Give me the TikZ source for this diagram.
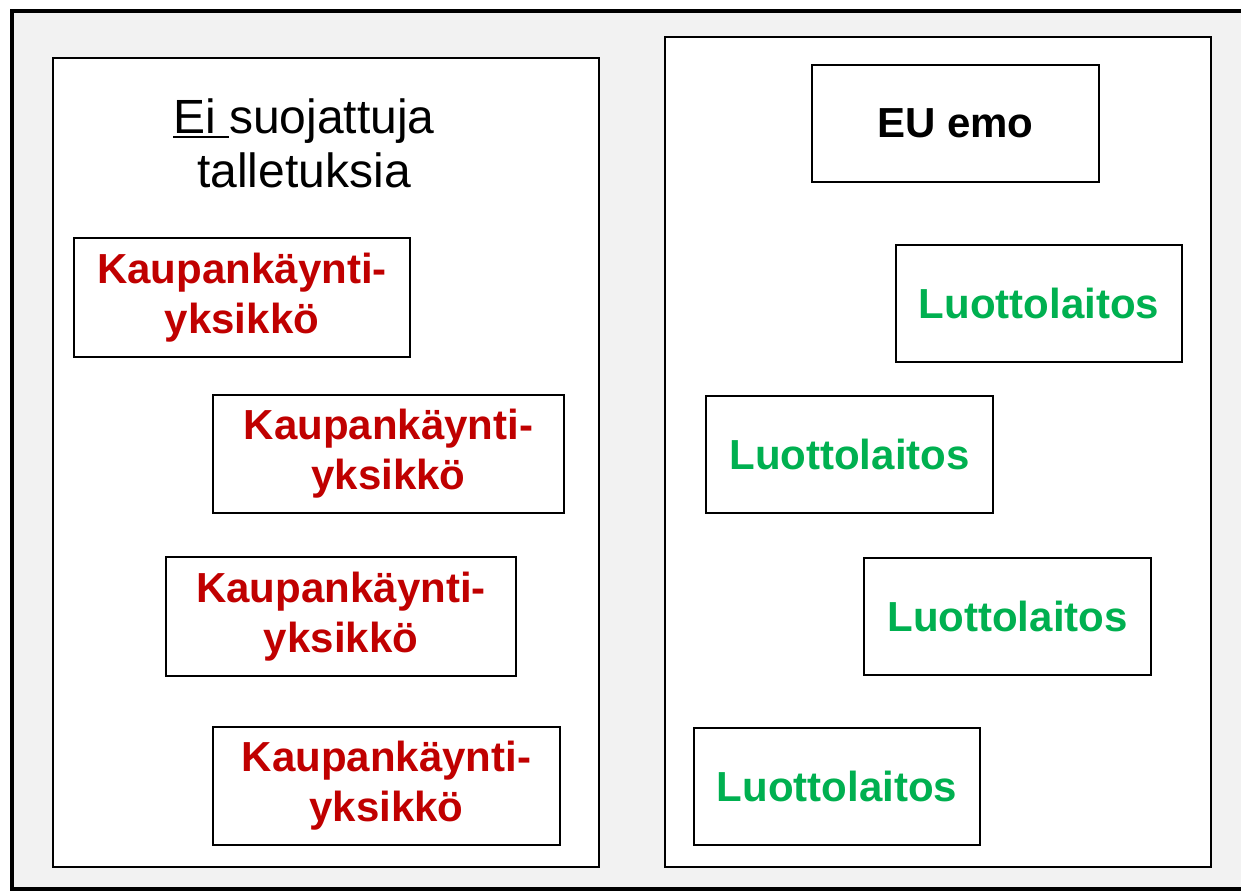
\documentclass[tikz,border=0pt]{standalone}
\usepackage{fontspec}
\setmainfont{Liberation Sans}
\definecolor{kred}{HTML}{C00000}
\definecolor{lgreen}{HTML}{00B050}
\definecolor{framebg}{HTML}{F2F2F2}
\newcommand\myul[1]{\setbox0\hbox{#1}\rlap{\rule[-5pt]{\wd0}{2.6pt}}\box0}
\begin{document}
\begin{tikzpicture}[x=1pt,y=-1pt,
  panel/.style={draw=black,fill=white,line width=2pt},
  unitbox/.style={draw=black,fill=white,line width=1.4pt,inner sep=0pt,align=center,
    font=\bfseries\fontsize{42}{50}\selectfont},
  tradebox/.style={unitbox,text=kred},
  creditbox/.style={unitbox,text=lgreen}]
\useasboundingbox (0,0) rectangle (1241,891);
\fill[white] (0,0) rectangle (1241,891);
\clip (0,0) rectangle (1241,891);
\draw[fill=framebg,line width=4pt] (12,11) rectangle (1260,889);
\draw[panel] (53,58) rectangle (599,867);
\draw[panel] (665,37) rectangle (1211,867);
\node[align=center,font=\fontsize{48}{54}\selectfont] (title) at (304,143)
  {\myul{Ei }suojattuja\\talletuksia};
\node[unitbox,minimum width=287,minimum height=117] (emo) at (955.5,123.5) {EU emo};
\node[creditbox,minimum width=286,minimum height=117] (l1) at (1039,303.5) {Luottolaitos};
\node[creditbox,minimum width=287,minimum height=117] (l2) at (849.5,454.5) {Luottolaitos};
\node[creditbox,minimum width=287,minimum height=117] (l3) at (1007.5,616.5) {Luottolaitos};
\node[creditbox,minimum width=286,minimum height=117] (l4) at (837,786.5) {Luottolaitos};
\node[tradebox,minimum width=336,minimum height=119] (k1) at (242,297.5) {Kaupankäynti-\\yksikkö};
\node[tradebox,minimum width=351,minimum height=118] (k2) at (388.5,454) {Kaupankäynti-\\yksikkö};
\node[tradebox,minimum width=350,minimum height=119] (k3) at (341,616.5) {Kaupankäynti-\\yksikkö};
\node[tradebox,minimum width=347,minimum height=118] (k4) at (386.5,786) {Kaupankäynti-\\yksikkö};
\end{tikzpicture}
\end{document}
